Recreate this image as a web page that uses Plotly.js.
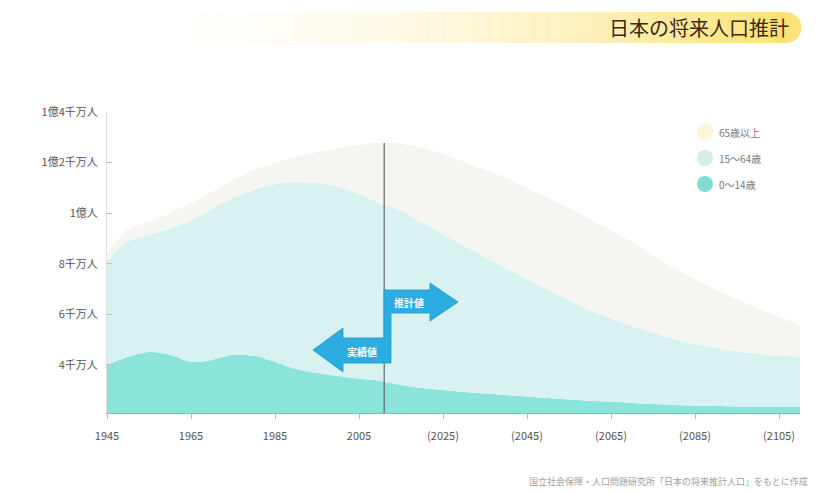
<!DOCTYPE html>
<html><head><meta charset="utf-8">
<script src="https://cdn.plot.ly/plotly-3.0.1.min.js"></script>
<style>html,body{margin:0;padding:0;background:#fff}</style>
</head><body><div id="chart" style="width:824px;height:494px"></div>
<script>
// 単位：万人
const years     = [1945,1950,1955,1960,1965,1970,1975,1980,1985,1990,1995,2000,2005,2010,2015,2020,2025,2030,2040,2050,2060,2070,2080,2090,2100,2110];
const age0_14   = [4000,4320,4510,4400,4120,4200,4400,4360,4120,3840,3680,3560,3450,3370,3210,3090,3010,2930,2810,2690,2580,2500,2420,2380,2340,2340];
const age15_64  = [4100,4580,4630,4980,5610,5970,6200,6560,7030,7390,7510,7480,7310,7030,6880,6560,6170,5770,5020,4270,3590,3040,2610,2290,2090,1980];
const age65plus = [ 300, 460, 510, 630, 670, 670, 710, 790, 830, 990,1230,1540,1940,2380,2650,2930,3160,3320,3560,3640,3600,3320,2800,2290,1820,1260];
const seriesNames = ['0～14歳','15～64歳','65歳以上'];
const tickYears = [1945,1965,1985,2005,2025,2045,2065,2085,2105];
const tickYearLabels = ['1945','1965','1985','2005','(2025)','(2045)','(2065)','(2085)','(2105)'];
const yTickVals = [4000,6000,8000,10000,12000,14000];
const yTickLabels = ['4千万人','6千万人','8千万人','1億人','1億2千万人','1億4千万人'];
const splitYear = 2011;
const titleText = '日本の将来人口推計';
const sourceText = '国立社会保障・人口問題研究所「日本の将来推計人口」をもとに作成';
const actualLabel = '実績値';
const projLabel = '推計値';

const fillColors = ['#8ae4d9','#d8f1f1','#f5f5f2'];
const legendColors = ['#7fdfd2','#d3efe8','#fcf5da'];

const L=107, T=112, W=693, H=301;
const px = x => (x-L)/W;
const py = y => (T+H-y)/H;

const seriesVals = [age0_14, age15_64, age65plus];
const traces = seriesVals.map((v,i)=>({
  type:'scatter', x:years, y:v, name:seriesNames[i], stackgroup:'one', mode:'none',
  line:{shape:'spline', smoothing:0.8, width:0}, fillcolor:fillColors[i], showlegend:false, hoverinfo:'skip'
}));

const shapes = [];
// title banner gradient
const N = 40, bx0 = 190, bx1 = 786;
for (let i=0;i<N;i++){
  const t = i/(N-1);
  const a = 0.04 + 0.9*Math.pow(t,1.8);
  shapes.push({type:'rect', xref:'paper', yref:'paper', x0:px(bx0+(bx1-bx0)*i/N), x1:px(bx0+(bx1-bx0)*(i+1)/N)+0.0005,
    y0:py(43), y1:py(12), fillcolor:`rgba(253,224,112,${a.toFixed(3)})`, line:{width:0}, layer:'below'});
}
shapes.push({type:'circle', xref:'paper', yref:'paper', xsizemode:'pixel', ysizemode:'pixel',
  xanchor:px(786), yanchor:py(27.5), x0:-15.5, x1:15.5, y0:-15.5, y1:15.5, fillcolor:'rgba(253,224,112,0.94)', line:{width:0}, layer:'below'});
// divider line
shapes.push({type:'line', xref:'x', yref:'paper', x0:splitYear, x1:splitYear, y0:0, y1:py(143), line:{color:'#666', width:1.2}});
// arrows
const pts = [[384,290],[430,290],[430,283],[458,302],[430,321],[430,313],[391,313],[391,363],[343,363],[343,372],[313,350],[343,328],[343,338],[384,338]];
const path = 'M' + pts.map(p=>px(p[0]).toFixed(4)+','+py(p[1]).toFixed(4)).join(' L') + ' Z';
shapes.push({type:'path', xref:'paper', yref:'paper', path:path, fillcolor:'#2badE2', line:{color:'#1d97cf', width:0.8}});
// legend circles
const legY = [132,158,184];
const legOrder = [2,1,0];
legOrder.forEach((s,k)=>{
  shapes.push({type:'circle', xref:'paper', yref:'paper', xsizemode:'pixel', ysizemode:'pixel',
    xanchor:px(705), yanchor:py(legY[k]), x0:-8, x1:8, y0:-8, y1:8, fillcolor:legendColors[s], line:{width:0}});
});

const annotations = [
  {xref:'paper', yref:'paper', x:px(791), y:py(28), xanchor:'right', yanchor:'middle', text:titleText, showarrow:false,
   font:{family:'Noto Sans CJK JP', size:20, color:'#3a2a12'}},
  {xref:'paper', yref:'paper', x:px(810), y:py(481), xanchor:'right', yanchor:'middle', text:sourceText, showarrow:false,
   font:{family:'Noto Sans CJK JP', size:9, color:'#a0a0a0'}},
  {xref:'paper', yref:'paper', x:px(409), y:py(302), xanchor:'center', yanchor:'middle', text:'<b>'+projLabel+'</b>', showarrow:false,
   font:{family:'Noto Sans CJK JP', size:10, color:'#ffffff'}},
  {xref:'paper', yref:'paper', x:px(362), y:py(351), xanchor:'center', yanchor:'middle', text:'<b>'+actualLabel+'</b>', showarrow:false,
   font:{family:'Noto Sans CJK JP', size:10, color:'#ffffff'}}
];
legOrder.forEach((s,k)=>{
  annotations.push({xref:'paper', yref:'paper', x:px(717), y:py(legY[k]), xanchor:'left', yanchor:'middle', text:seriesNames[s], showarrow:false,
    font:{family:'Noto Sans CJK JP', size:10, color:'#777'}});
});

const layout = {
  width:824, height:494, margin:{l:L, r:824-L-W, t:T, b:494-T-H},
  paper_bgcolor:'#fff', plot_bgcolor:'#fff', showlegend:false, hovermode:false,
  font:{family:'Noto Sans CJK JP', color:'#555'},
  xaxis:{range:[1945,2110], tickvals:tickYears, ticktext:tickYearLabels, ticks:'outside', ticklen:5, tickcolor:'#bbb',
    showgrid:false, zeroline:false, showline:true, linecolor:'#aaa', linewidth:1, ticklabelstandoff:8,
    tickfont:{size:11, color:'#555'}},
  yaxis:{range:[2100,14000], tickvals:yTickVals, ticktext:yTickLabels, ticks:'inside', ticklen:5, tickcolor:'#bbb',
    showgrid:false, zeroline:false, showline:true, linecolor:'#ddd', linewidth:1, ticklabelstandoff:6,
    tickfont:{size:11, color:'#555'}},
  shapes:shapes, annotations:annotations
};
Plotly.newPlot('chart', traces, layout, {displayModeBar:false, staticPlot:true});
</script></body></html>
